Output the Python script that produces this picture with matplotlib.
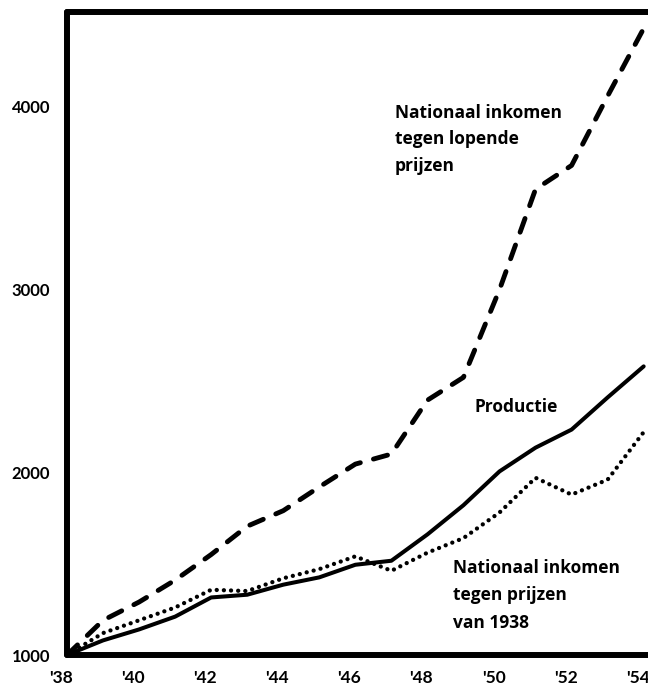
import matplotlib
matplotlib.use("Agg")
import matplotlib.pyplot as plt
import matplotlib.transforms as mtransforms

years = list(range(1938, 1955))
inkomen_lopend = [1000, 1190, 1290, 1410, 1550, 1705, 1790, 1920, 2045, 2100,
                  2395, 2520, 3000, 3550, 3680, 4060, 4430]
productie = [1000, 1080, 1140, 1210, 1315, 1330, 1385, 1425, 1494, 1516,
             1660, 1820, 2005, 2135, 2234, 2410, 2580]
inkomen_1938 = [1000, 1120, 1190, 1260, 1357, 1350, 1420, 1470, 1540, 1461,
                1560, 1640, 1780, 1970, 1878, 1960, 2220]

xtick_years = [1938, 1940, 1942, 1944, 1946, 1948, 1950, 1952, 1954]
xtick_labels = ["'38", "'40", "'42", "'44", "'46", "'48", "'50", "'52", "'54"]
ytick_vals = [1000, 2000, 3000, 4000]
ytick_labels = ["1000", "2000", "3000", "4000"]

W, H = 648, 696
fig = plt.figure(figsize=(W / 100, H / 100), dpi=100)
fig.patch.set_facecolor("white")
ax = fig.add_axes([67 / W, (H - 655) / H, (W - 67) / W + 0.01, (655 - 12) / H])

TICKFONT = "Lato"
TEXTFONT = "Open Sans"

ax.plot(years, inkomen_lopend, color="black", lw=3.5, linestyle=(0, (3.0, 2.8)),
        dash_capstyle="round", solid_capstyle="round")
ax.plot(years, productie, color="black", lw=2.9, solid_capstyle="round",
        solid_joinstyle="round")
ax.plot(years, inkomen_1938, color="black", lw=3.1, linestyle=(0, (0.01, 1.65)),
        dash_capstyle="round")

ax.set_xlim(1938, 1954.3)
ax.set_ylim(1000, 4520)

for side in ["left", "top", "bottom"]:
    ax.spines[side].set_linewidth(4.3)
    ax.spines[side].set_color("black")
    ax.spines[side].set_capstyle("round")
ax.spines["right"].set_visible(False)

ax.set_xticks(xtick_years)
ax.set_xticklabels(xtick_labels, fontfamily=TICKFONT, fontweight="bold", fontsize=12.5)
ax.set_yticks(ytick_vals)
ax.set_yticklabels(ytick_labels, fontfamily=TICKFONT, fontweight="bold", fontsize=12)
ax.tick_params(axis="both", length=0)
ax.tick_params(axis="x", pad=11)
ax.tick_params(axis="y", pad=12)

offset = mtransforms.ScaledTranslation(-6 / 100, 0, fig.dpi_scale_trans)
for lab in ax.get_xticklabels():
    lab.set_transform(lab.get_transform() + offset)


def px(x, y):
    return x / W, 1 - y / H


tkw = dict(fontfamily=TEXTFONT, fontweight="bold", fontsize=12.5, color="black",
           ha="left", va="baseline")
lines1 = ["Nationaal inkomen", "tegen lopende", "prijzen"]
for i, t in enumerate(lines1):
    fig.text(*px(395, 118 + 26.5 * i), t, **tkw)
fig.text(*px(475, 412), "Productie", **tkw)
lines3 = ["Nationaal inkomen", "tegen prijzen", "van 1938"]
for i, t in enumerate(lines3):
    fig.text(*px(453, 573 + 27.5 * i), t, **tkw)

fig.savefig("out.png", dpi=100, facecolor="white")
